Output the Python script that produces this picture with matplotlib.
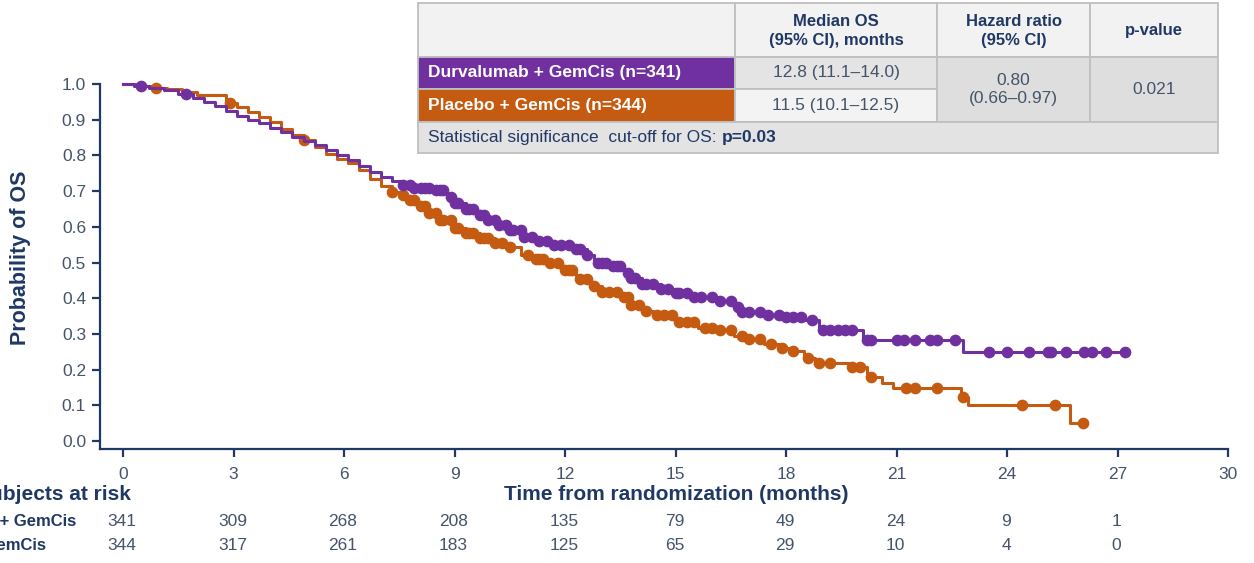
import numpy as np
import matplotlib
matplotlib.use("Agg")
import matplotlib.pyplot as plt
from matplotlib.patches import Rectangle

plt.rcParams['font.family'] = ['Liberation Sans', 'DejaVu Sans']

# ---------------- data ----------------
durva_t = [0.0, 0.3, 0.7, 1.1, 1.5, 1.9, 2.2, 2.5, 2.8, 3.1, 3.4, 3.7, 4.0, 4.3, 4.6, 4.9,
           5.2, 5.5, 5.8, 6.1, 6.4, 6.7, 7.0, 7.3, 7.6, 7.9, 8.5, 8.8, 9.0, 9.3, 9.6, 9.9,
           10.2, 10.5, 10.9, 11.3, 11.7, 12.3, 12.6, 12.8, 13.3, 13.6, 13.8, 14.1, 14.6,
           15.0, 15.4, 16.2, 16.6, 16.8, 17.4, 18.0, 18.5, 18.9, 20.1, 22.8, 27.2]
durva_s = [1.000, 0.995, 0.990, 0.983, 0.972, 0.962, 0.950, 0.938, 0.924, 0.910, 0.900,
           0.890, 0.878, 0.866, 0.852, 0.840, 0.828, 0.815, 0.800, 0.786, 0.770, 0.753,
           0.740, 0.728, 0.716, 0.709, 0.703, 0.685, 0.668, 0.650, 0.633, 0.618, 0.605,
           0.590, 0.571, 0.560, 0.550, 0.538, 0.520, 0.500, 0.490, 0.470, 0.457, 0.440,
           0.425, 0.415, 0.405, 0.392, 0.375, 0.362, 0.353, 0.347, 0.339, 0.310, 0.283,
           0.249, 0.249]
durva_cens = [0.5, 1.7, 7.6, 7.8, 7.9, 8.1, 8.2, 8.3, 8.5, 8.6, 8.7, 8.9, 9.0, 9.1, 9.3,
              9.4, 9.5, 9.7, 9.8, 9.9, 10.1, 10.2, 10.4, 10.5, 10.6, 10.8, 10.9, 11.1,
              11.3, 11.5, 11.7, 11.9, 12.1, 12.3, 12.4, 12.6, 12.9, 13.0, 13.1, 13.3, 13.4,
              13.5, 13.7, 13.8, 13.9, 14.1, 14.2, 14.4, 14.6, 14.8, 15.0, 15.1, 15.3, 15.5,
              15.7, 16.0, 16.2, 16.5, 16.7, 16.8, 17.0, 17.3, 17.5, 17.8, 18.0, 18.2, 18.4,
              18.7, 19.0, 19.2, 19.4, 19.6, 19.8, 20.2, 20.3, 21.0, 21.2, 21.5, 21.9, 22.1,
              22.6, 23.5, 24.0, 24.6, 25.1, 25.2, 25.6, 26.1, 26.3, 26.7, 27.2]

placebo_t = [0.0, 0.4, 0.8, 1.2, 1.6, 2.0, 2.8, 3.1, 3.4, 3.7, 4.0, 4.3, 4.6, 4.9, 5.2,
             5.5, 5.8, 6.1, 6.4, 6.7, 7.0, 7.3, 7.5, 7.7, 8.0, 8.3, 8.6, 9.0, 9.3, 9.7,
             10.1, 10.5, 10.8, 11.1, 11.5, 11.9, 12.3, 12.7, 13.0, 13.5, 13.8, 14.1, 14.4,
             15.0, 15.6, 16.2, 16.6, 17.0, 17.4, 17.8, 18.2, 18.5, 18.8, 19.7, 20.2, 20.6,
             20.9, 22.75, 22.95, 25.7, 26.06]
placebo_s = [1.000, 0.995, 0.990, 0.985, 0.978, 0.970, 0.948, 0.935, 0.922, 0.908, 0.893,
             0.875, 0.858, 0.842, 0.825, 0.805, 0.790, 0.778, 0.760, 0.735, 0.715, 0.698,
             0.690, 0.675, 0.658, 0.638, 0.620, 0.597, 0.582, 0.569, 0.555, 0.543, 0.520,
             0.510, 0.499, 0.479, 0.455, 0.435, 0.417, 0.403, 0.380, 0.365, 0.353, 0.333,
             0.318, 0.310, 0.295, 0.285, 0.273, 0.262, 0.252, 0.232, 0.220, 0.207, 0.180,
             0.163, 0.148, 0.123, 0.100, 0.050, 0.050]
placebo_cens = [0.9, 2.9, 4.9, 7.3, 7.6, 7.8, 7.9, 8.1, 8.2, 8.3, 8.5, 8.6, 8.7, 8.9, 9.0,
                9.1, 9.3, 9.4, 9.5, 9.7, 9.8, 9.9, 10.1, 10.3, 10.5, 11.0, 11.2, 11.3, 11.4,
                11.6, 11.8, 12.0, 12.1, 12.2, 12.4, 12.6, 12.8, 13.0, 13.2, 13.4, 13.6, 13.7,
                13.8, 14.0, 14.2, 14.5, 14.7, 14.9, 15.1, 15.3, 15.5, 15.8, 16.0, 16.2, 16.5,
                16.8, 17.0, 17.3, 17.6, 17.9, 18.2, 18.6, 18.9, 19.2, 19.8, 20.0, 20.3, 21.25,
                21.5, 22.1, 22.8, 24.4, 25.3, 26.06]

risk_times = [0, 3, 6, 9, 12, 15, 18, 21, 24, 27]
risk_durva = [341, 309, 268, 208, 135, 79, 49, 24, 9, 1]
risk_placebo = [344, 317, 261, 183, 125, 65, 29, 10, 4, 0]
risk_labels = ["Durvalumab + GemCis", "Placebo + GemCis"]

x_ticks = [0, 3, 6, 9, 12, 15, 18, 21, 24, 27, 30]
y_ticks = [0.0, 0.1, 0.2, 0.3, 0.4, 0.5, 0.6, 0.7, 0.8, 0.9, 1.0]

tbl_header = ["", "Median OS\n(95% CI), months", "Hazard ratio\n(95% CI)", "p-value"]
tbl_arms = ["Durvalumab + GemCis (n=341)", "Placebo + GemCis (n=344)"]
tbl_median = ["12.8 (11.1\u201314.0)", "11.5 (10.1\u201312.5)"]
tbl_hr = "0.80\n(0.66\u20130.97)"
tbl_p = "0.021"
tbl_foot = ("Statistical significance  cut-off for OS: ", "p=0.03")

# ---------------- style ----------------
PURPLE = "#7030A0"
ORANGE = "#C55A11"
NAVY = "#1F3864"
GREYTXT = "#44546A"

W, H = 1254, 563
fig = plt.figure(figsize=(W / 100, H / 100), dpi=100)

L, R, B, T = 100, 1228, 449, 84
ax = fig.add_axes([L / W, 1 - B / H, (R - L) / W, (B - T) / H])
ax.set_xlim(-0.625, 30)
ax.set_ylim(-0.022, 1.0)

def step_lookup(ts, ss, q):
    idx = np.searchsorted(np.asarray(ts), np.asarray(q), side='right') - 1
    idx = np.clip(idx, 0, len(ss) - 1)
    return np.asarray(ss)[idx]

for ts, ss, cens, col in [(placebo_t, placebo_s, placebo_cens, ORANGE),
                          (durva_t, durva_s, durva_cens, PURPLE)]:
    ax.step(ts, ss, where='post', color=col, lw=2.2, clip_on=False, zorder=3)
    ax.plot(cens, step_lookup(ts, ss, cens), 'o', color=col, ms=7.4,
            mec=col, clip_on=False, zorder=3)

for s in ['top', 'right']:
    ax.spines[s].set_visible(False)
for s in ['left', 'bottom']:
    ax.spines[s].set_color(NAVY)
    ax.spines[s].set_linewidth(1.6)
ax.set_xticks(x_ticks)
ax.set_yticks(y_ticks)
ax.set_yticklabels([f"{v:.1f}" for v in y_ticks])
ax.tick_params(axis='both', colors=NAVY, length=6, width=1.6, labelsize=12.5,
               labelcolor=GREYTXT, pad=4)
ax.tick_params(axis='x', pad=7)

# ---------------- overlay in pixel coordinates ----------------
ov = fig.add_axes([0, 0, 1, 1], zorder=10)
ov.set_xlim(0, W)
ov.set_ylim(H, 0)
ov.axis('off')
ov.patch.set_alpha(0)

ov.text(21, 258, "Probability of OS", rotation=90, ha='center', va='center',
        fontsize=15.5, fontweight='bold', color=NAVY)
ov.text(676, 495, "Time from randomization (months)", ha='center', va='center',
        fontsize=15, fontweight='bold', color=NAVY)
ov.text(131, 495, "Number of subjects at risk", ha='right', va='center',
        fontsize=15, fontweight='bold', color=NAVY)
ov.text(76, 522, risk_labels[0], ha='right', va='center', fontsize=12,
        fontweight='bold', color=NAVY)
ov.text(46, 546, risk_labels[1], ha='right', va='center', fontsize=12,
        fontweight='bold', color=NAVY)

def xpix(t):
    return L + (t - (-0.625)) / (30 + 0.625) * (R - L)

for t, a, b in zip(risk_times, risk_durva, risk_placebo):
    ov.text(xpix(t) - 1, 522, str(a), ha='center', va='center', fontsize=12.5, color=GREYTXT)
    ov.text(xpix(t) - 1, 546, str(b), ha='center', va='center', fontsize=12.5, color=GREYTXT)

# table
cols = [418, 735, 937, 1090, 1218]
rows = [3, 57, 89, 122, 153]
EDGE = "#BFBFBF"

def cell(x0, y0, x1, y1, fc):
    ov.add_patch(Rectangle((x0, y0), x1 - x0, y1 - y0, facecolor=fc, edgecolor=EDGE, lw=1.3))

# header
for i in range(4):
    cell(cols[i], rows[0], cols[i + 1], rows[1], "#F2F2F2")
    if tbl_header[i]:
        ov.text((cols[i] + cols[i + 1]) / 2, (rows[0] + rows[1]) / 2 + 1, tbl_header[i],
                ha='center', va='center', fontsize=12, fontweight='bold', color=NAVY,
                linespacing=1.25)
# arms
for k, (fc, mfc) in enumerate([(PURPLE, "#E4E4E4"), (ORANGE, "#F3F3F3")]):
    cell(cols[0], rows[1 + k], cols[1], rows[2 + k], fc)
    ov.text(cols[0] + 10, (rows[1 + k] + rows[2 + k]) / 2, tbl_arms[k], ha='left',
            va='center', fontsize=12.5, fontweight='bold', color='white')
    cell(cols[1], rows[1 + k], cols[2], rows[2 + k], mfc)
    ov.text((cols[1] + cols[2]) / 2, (rows[1 + k] + rows[2 + k]) / 2, tbl_median[k],
            ha='center', va='center', fontsize=12.5, color=GREYTXT)
cell(cols[2], rows[1], cols[3], rows[3], "#DEDEDE")
ov.text((cols[2] + cols[3]) / 2, (rows[1] + rows[3]) / 2, tbl_hr, ha='center',
        va='center', fontsize=12.5, color=GREYTXT, linespacing=1.3)
cell(cols[3], rows[1], cols[4], rows[3], "#DEDEDE")
ov.text((cols[3] + cols[4]) / 2, (rows[1] + rows[3]) / 2, tbl_p, ha='center',
        va='center', fontsize=12.5, color=GREYTXT)
cell(cols[0], rows[3], cols[4], rows[4], "#E3E3E3")
t1 = ov.text(cols[0] + 10, (rows[3] + rows[4]) / 2, tbl_foot[0], ha='left', va='center',
             fontsize=12.5, color=NAVY)
fig.canvas.draw()
bb = t1.get_window_extent()
ov.text(bb.x1, (rows[3] + rows[4]) / 2, tbl_foot[1], ha='left', va='center',
        fontsize=12.5, fontweight='bold', color=NAVY)

fig.savefig("out.png", dpi=100)
